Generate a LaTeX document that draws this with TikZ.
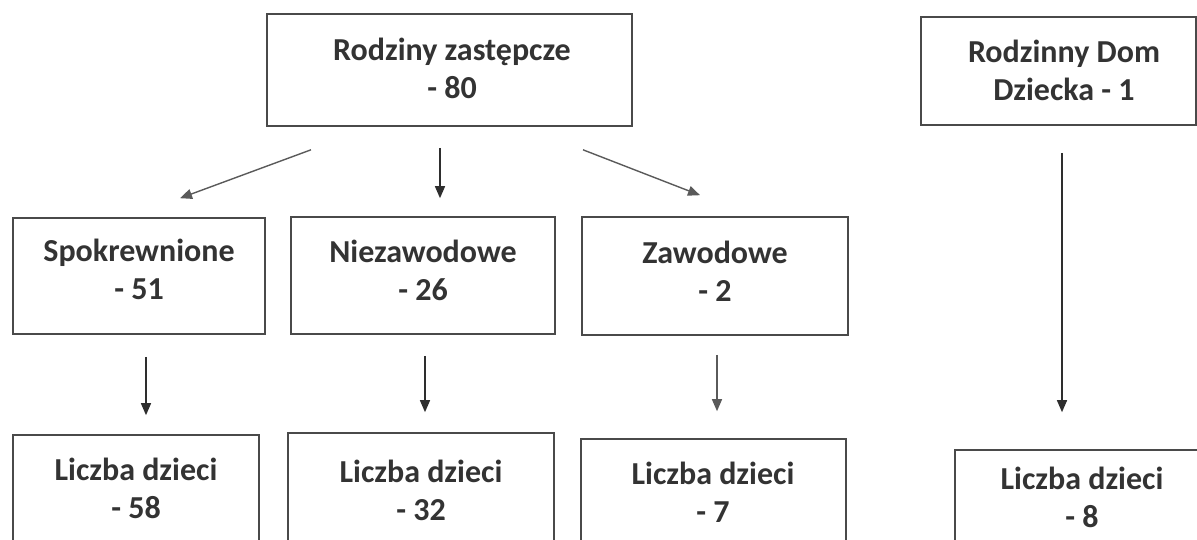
\documentclass[tikz,border=0pt]{standalone}
\usepackage{fontspec}
\setmainfont{Carlito}
\usetikzlibrary{arrows.meta,calc}
\definecolor{txt}{HTML}{333333}
\definecolor{frame}{HTML}{4A4A4A}
\definecolor{arrdark}{HTML}{2E2E2E}
\definecolor{arrgray}{HTML}{5A5A5A}
\tikzset{
  box/.style={draw=frame, line width=1.6pt, fill=white, inner sep=0pt},
  lbl/.style={inner sep=0pt, font=\bfseries\fontsize{32}{38}\selectfont, text=txt, align=center},
  arr/.style={-{Triangle[length=12pt,width=10pt]}, line width=1.4pt, draw=arrdark},
  arrg/.style={arr, draw=arrgray}
}
\begin{document}
\begin{tikzpicture}[x=1pt,y=-1pt]
\useasboundingbox (0,0) rectangle (1197,540);
\clip (0,0) rectangle (1197,540);
% top row
\node[box, minimum width=365pt, minimum height=112pt] (top) at (449.5,70) {};
\node[box, minimum width=275pt, minimum height=108pt] (rdd) at (1058.5,71) {};
% middle row
\node[box, minimum width=252pt, minimum height=116pt] (spok) at (139,276) {};
\node[box, minimum width=264pt, minimum height=117pt] (niez) at (423,275.5) {};
\node[box, minimum width=266pt, minimum height=118pt] (zaw) at (715,276) {};
% bottom row (cut off at the lower edge)
\node[box, minimum width=246pt, minimum height=140pt] (b1) at (136,505) {};
\node[box, minimum width=266pt, minimum height=140pt] (b2) at (421,503) {};
\node[box, minimum width=265pt, minimum height=140pt] (b3) at (713.5,509) {};
\node[box, minimum width=256pt, minimum height=140pt] (b4) at (1083,520) {};
% texts
\node[lbl] (ttop) at (452,68) {Rodziny zastępcze\\- 80};
\node[lbl] (trdd) at (1064,70) {Rodzinny Dom\\Dziecka - 1};
\node[lbl] (tspok) at (139,269) {Spokrewnione\\- 51};
\node[lbl] (tniez) at (423,270) {Niezawodowe\\- 26};
\node[lbl] (tzaw) at (715,271) {Zawodowe\\- 2};
\node[lbl] (t1) at (136,488) {Liczba dzieci\\- 58};
\node[lbl] (t2) at (421,490) {Liczba dzieci\\- 32};
\node[lbl] (t3) at (713,492) {Liczba dzieci\\- 7};
\node[lbl] (t4) at (1082,497) {Liczba dzieci\\- 8};
% connectors
\draw[arrg] ($(top.south)+(-138.5,23)$) -- ($(spok.north)+(41,-19)$);
\draw[arr]  ($(top.south)+(-9.5,21)$) -- ($(niez.north)+(17,-18)$);
\draw[arrg] ($(top.south)+(133.5,23)$) -- ($(zaw.north)+(-15,-21)$);
\draw[arr]  ($(spok.south)+(7,22)$) -- ($(b1.north)+(10,-19)$);
\draw[arr]  ($(niez.south)+(2,21)$) -- ($(b2.north)+(4,-20)$);
\draw[arrg] ($(zaw.south)+(2,19)$) -- ($(b3.north)+(3.5,-27)$);
\draw[arr]  ($(rdd.south)+(3.5,27)$) -- ($(b4.north)+(-21,-37)$);
\end{tikzpicture}
\end{document}
